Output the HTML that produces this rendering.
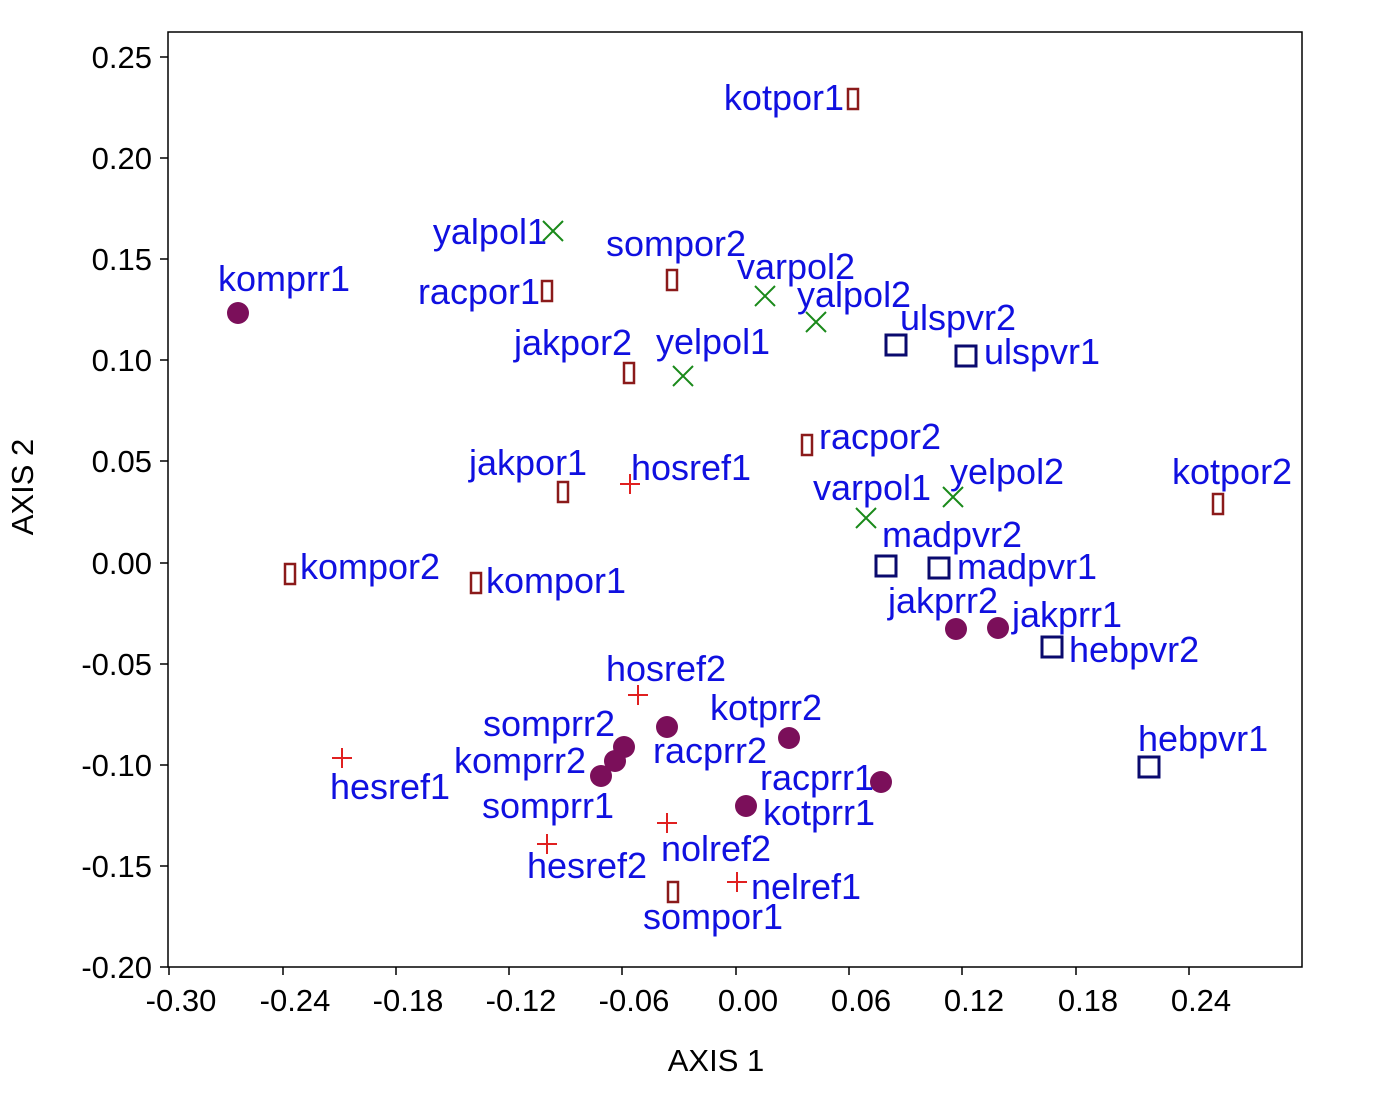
<!DOCTYPE html>
<html><head><meta charset="utf-8"><style>body{margin:0;background:#fff}svg{display:block}</style></head><body>
<svg width="1379" height="1109" xmlns="http://www.w3.org/2000/svg" font-family="Liberation Sans, Arial, sans-serif">
<rect x="168" y="32" width="1134" height="935" fill="none" stroke="#000" stroke-width="1.5"/>
<g stroke="#000" stroke-width="1.5">
<line x1="160" y1="57" x2="168" y2="57"/><line x1="160" y1="158" x2="168" y2="158"/><line x1="160" y1="259" x2="168" y2="259"/><line x1="160" y1="360" x2="168" y2="360"/><line x1="160" y1="461" x2="168" y2="461"/><line x1="160" y1="563" x2="168" y2="563"/><line x1="160" y1="664" x2="168" y2="664"/><line x1="160" y1="765" x2="168" y2="765"/><line x1="160" y1="866" x2="168" y2="866"/><line x1="160" y1="967" x2="168" y2="967"/>
<line x1="169" y1="967" x2="169" y2="975"/><line x1="283" y1="967" x2="283" y2="975"/><line x1="396" y1="967" x2="396" y2="975"/><line x1="509" y1="967" x2="509" y2="975"/><line x1="622" y1="967" x2="622" y2="975"/><line x1="736" y1="967" x2="736" y2="975"/><line x1="849" y1="967" x2="849" y2="975"/><line x1="962" y1="967" x2="962" y2="975"/><line x1="1076" y1="967" x2="1076" y2="975"/><line x1="1189" y1="967" x2="1189" y2="975"/>
</g>
<g font-size="31" text-anchor="end" fill="#000">
<text x="152" y="68">0.25</text><text x="152" y="169">0.20</text><text x="152" y="270">0.15</text><text x="152" y="371">0.10</text><text x="152" y="472">0.05</text><text x="152" y="574">0.00</text><text x="152" y="675">-0.05</text><text x="152" y="776">-0.10</text><text x="152" y="877">-0.15</text><text x="152" y="978">-0.20</text>
</g>
<g font-size="31" text-anchor="middle" fill="#000">
<text x="181" y="1011">-0.30</text><text x="295" y="1011">-0.24</text><text x="408" y="1011">-0.18</text><text x="521" y="1011">-0.12</text><text x="634" y="1011">-0.06</text><text x="748" y="1011">0.00</text><text x="861" y="1011">0.06</text><text x="974" y="1011">0.12</text><text x="1088" y="1011">0.18</text><text x="1201" y="1011">0.24</text>
<text x="716" y="1071">AXIS 1</text>
<text transform="translate(33,487) rotate(-90)">AXIS 2</text>
</g>
<g fill="#7b0f5a">
<circle cx="238" cy="313" r="11"/><circle cx="956" cy="629" r="11"/><circle cx="998" cy="628" r="11"/><circle cx="624" cy="747" r="11"/><circle cx="615" cy="761" r="11"/><circle cx="601" cy="776" r="11"/><circle cx="667" cy="727" r="11"/><circle cx="789" cy="738" r="11"/><circle cx="881" cy="782" r="11"/><circle cx="746" cy="806" r="11"/>
</g>
<g fill="none" stroke="#8b1a1a" stroke-width="2.5">
<rect x="848" y="89" width="10" height="20"/><rect x="542" y="281" width="10" height="20"/><rect x="667" y="270" width="10" height="20"/><rect x="624" y="363" width="10" height="20"/><rect x="802" y="435" width="10" height="20"/><rect x="558" y="482" width="10" height="20"/><rect x="1213" y="494" width="10" height="20"/><rect x="285" y="564" width="10" height="20"/><rect x="471" y="573" width="10" height="20"/><rect x="668" y="882" width="10" height="20"/>
</g>
<g stroke="#1a8a1a" stroke-width="2">
<path d="M543 221l20 20M563 221l-20 20"/><path d="M755 286l20 20M775 286l-20 20"/><path d="M806 312l20 20M826 312l-20 20"/><path d="M673 366l20 20M693 366l-20 20"/><path d="M943 487l20 20M963 487l-20 20"/><path d="M856 508l20 20M876 508l-20 20"/>
</g>
<g stroke="#e02020" stroke-width="2">
<path d="M620 484h20M630 474v20"/><path d="M628 695h20M638 685v20"/><path d="M332 758h20M342 748v20"/><path d="M657 823h20M667 813v20"/><path d="M537 844h20M547 834v20"/><path d="M727 882h20M737 872v20"/>
</g>
<g fill="none" stroke="#0a0a6e" stroke-width="3">
<rect x="886" y="335" width="20" height="20"/><rect x="956" y="346" width="20" height="20"/><rect x="876" y="556" width="20" height="20"/><rect x="929" y="558" width="20" height="20"/><rect x="1042" y="637" width="20" height="20"/><rect x="1139" y="757" width="20" height="20"/>
</g>
<g font-size="36" fill="#1010e0">
<text x="218" y="291">komprr1</text><text x="888" y="613">jakprr2</text><text x="1012" y="627">jakprr1</text><text x="483" y="736">somprr2</text><text x="454" y="773">komprr2</text><text x="482" y="818">somprr1</text><text x="653" y="763">racprr2</text><text x="710" y="720">kotprr2</text><text x="760" y="790">racprr1</text><text x="763" y="825">kotprr1</text>
<text x="844" y="110" text-anchor="end">kotpor1</text><text x="540" y="304" text-anchor="end">racpor1</text><text x="606" y="256">sompor2</text><text x="514" y="355">jakpor2</text><text x="819" y="449">racpor2</text><text x="469" y="475">jakpor1</text><text x="1172" y="484">kotpor2</text><text x="300" y="579">kompor2</text><text x="486" y="593">kompor1</text><text x="643" y="929">sompor1</text>
<text x="547" y="244" text-anchor="end">yalpol1</text><text x="737" y="279">varpol2</text><text x="797" y="307">yalpol2</text><text x="656" y="354">yelpol1</text><text x="950" y="484">yelpol2</text><text x="813" y="500">varpol1</text>
<text x="631" y="480">hosref1</text><text x="606" y="681">hosref2</text><text x="330" y="799">hesref1</text><text x="661" y="861">nolref2</text><text x="527" y="878">hesref2</text><text x="751" y="899">nelref1</text>
<text x="900" y="330">ulspvr2</text><text x="984" y="364">ulspvr1</text><text x="882" y="547">madpvr2</text><text x="957" y="579">madpvr1</text><text x="1069" y="662">hebpvr2</text><text x="1138" y="751">hebpvr1</text>
</g>
</svg>
</body></html>
